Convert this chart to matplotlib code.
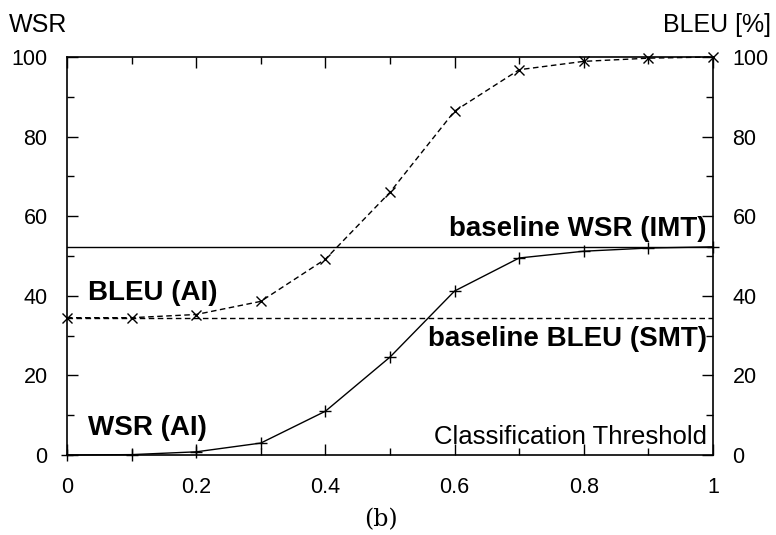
import numpy as np
import matplotlib
matplotlib.use('Agg')
import matplotlib.pyplot as plt
from matplotlib.ticker import MultipleLocator, FuncFormatter

plt.rcParams['font.family'] = ['Liberation Sans', 'DejaVu Sans']

# data
threshold = [0.0, 0.1, 0.2, 0.3, 0.4, 0.5, 0.6, 0.7, 0.8, 0.9, 1.0]
bleu_ai = [34.5, 34.5, 35.3, 38.6, 49.2, 66.0, 86.4, 96.8, 98.9, 99.7, 100.0]
wsr_ai = [0.0, 0.1, 0.8, 3.0, 11.0, 24.6, 41.2, 49.5, 51.2, 52.0, 52.3]
baseline_wsr = 52.3
baseline_bleu = 34.5

fig = plt.figure(figsize=(7.76, 5.35), dpi=100)
ax = fig.add_axes([0.0863, 0.1495, 0.8325, 0.744])

ax.plot(threshold, bleu_ai, 'k--x', lw=1, ms=7, mew=1, dashes=(4, 2.5), clip_on=False, zorder=3)
ax.plot(threshold, wsr_ai, 'k-+', lw=1, ms=9, mew=1, clip_on=False, zorder=3)
ax.axhline(baseline_wsr, color='k', lw=1)
ax.axhline(baseline_bleu, color='k', lw=1, ls=(0, (4, 2.5)))

ax.set_xlim(0, 1)
ax.set_ylim(0, 100)
ax.xaxis.set_major_locator(MultipleLocator(0.2))
ax.xaxis.set_minor_locator(MultipleLocator(0.1))
ax.yaxis.set_major_locator(MultipleLocator(20))
ax.yaxis.set_minor_locator(MultipleLocator(10))
ax.xaxis.set_major_formatter(FuncFormatter(lambda v, p: '%g' % round(v, 1)))
ax.yaxis.set_major_formatter(FuncFormatter(lambda v, p: '%d' % v))
ax.tick_params(which='both', direction='in', top=True, right=True, labelright=True, width=1)
ax.tick_params(which='major', length=8, labelsize=15.5)
ax.tick_params(which='minor', length=5)
ax.tick_params(axis='y', which='major', pad=14)
ax.tick_params(axis='x', which='major', pad=16)
for s in ax.spines.values():
    s.set_linewidth(1.2)

fig.text(0.012, 0.93, 'WSR', fontsize=18, ha='left', va='bottom')
fig.text(0.993, 0.93, 'BLEU [%]', fontsize=18, ha='right', va='bottom')

ax.text(0.99, baseline_wsr + 1.2, 'baseline WSR (IMT)', fontsize=20, fontweight='bold', ha='right', va='bottom')
ax.text(0.99, baseline_bleu - 2.0, 'baseline BLEU (SMT)', fontsize=20, fontweight='bold', ha='right', va='top')
ax.text(0.033, 37.5, 'BLEU (AI)', fontsize=20, fontweight='bold', ha='left', va='bottom')
ax.text(0.033, 3.5, 'WSR (AI)', fontsize=20, fontweight='bold', ha='left', va='bottom')
ax.text(0.99, 1.5, 'Classification Threshold', fontsize=18.5, ha='right', va='bottom')

fig.text(0.491, 0.028, '(b)', fontsize=17, family='DejaVu Serif', ha='center', va='center')

fig.savefig('out.png', dpi=100)
